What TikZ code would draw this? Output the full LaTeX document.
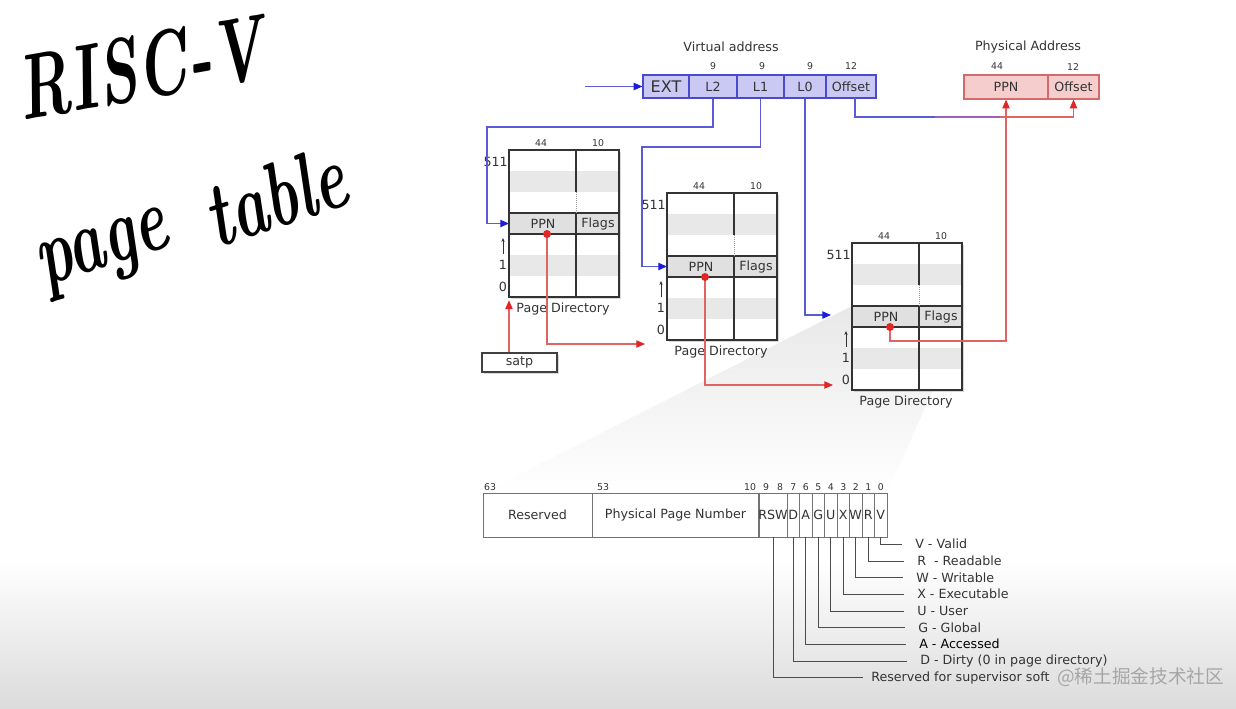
\documentclass[tikz,border=0pt]{standalone}
\usepackage{fontspec}
\setsansfont{DejaVu Sans}
\newfontfamily\cjkfont{Noto Sans CJK SC}
\usetikzlibrary{arrows.meta,shadows}
\definecolor{vline}{HTML}{5B5BD6}
\definecolor{vtip}{HTML}{1C1CE0}
\definecolor{vfill}{HTML}{C9C9F4}
\definecolor{vdraw}{HTML}{4A4AD0}
\definecolor{pfill}{HTML}{F6CDCD}
\definecolor{pdraw}{HTML}{D46A6A}
\definecolor{rline}{HTML}{E06464}
\definecolor{rtip}{HTML}{E02626}
\definecolor{txt}{HTML}{333333}
\definecolor{stripe}{HTML}{E8E8E8}
\definecolor{ppnrow}{HTML}{E0E0E0}
\definecolor{tframe}{HTML}{333333}
\definecolor{midv}{HTML}{9A62B8}

\tikzset{
 vbox/.style={draw=vdraw, fill=vfill, line width=0.9pt, minimum height=17.25pt, inner sep=0pt, font=\sffamily\fontsize{9.5}{11}\selectfont, text=txt},
 pbox/.style={draw=pdraw, fill=pfill, line width=0.9pt, minimum height=18pt, inner sep=0pt, font=\sffamily\fontsize{9.5}{11}\selectfont, text=txt},
 small/.style={font=\sffamily\fontsize{7}{8}\selectfont, text=txt, inner sep=0pt},
 lbl/.style={font=\sffamily\fontsize{9.5}{11}\selectfont, text=txt, inner sep=0pt},
 bline/.style={draw=vline, line width=0.8pt},
 barrow/.style={bline, -{Triangle[length=6.5pt,width=5.5pt,color=vtip]}},
 rlinest/.style={draw=rline, line width=0.8pt},
 rarrow/.style={rlinest, -{Triangle[length=6.5pt,width=5.5pt,color=rtip]}},
 tbl/.style={draw=tframe, line width=0.9pt},
 reddot/.style={circle, fill=rtip, inner sep=0pt, minimum size=6pt},
 field/.style={draw=black!55, line width=0.6pt, minimum height=33pt, inner sep=0pt, font=\sffamily\fontsize{9.5}{11}\selectfont, text=txt},
 legline/.style={draw=black!70, line width=0.7pt},
 leg/.style={anchor=west, font=\sffamily\fontsize{9.5}{11}\selectfont, text=txt, inner sep=0pt},
 hand/.style={font=\fontsize{46}{48}\selectfont\rmfamily\bfseries\itshape, inner sep=0pt},
}

\newcommand\pagedir[3]{%
 \fill[white, drop shadow={shadow xshift=1.5pt, shadow yshift=-1.5pt, opacity=0.3}] (#2,#3) rectangle (#2+110,#3+147);
 \fill[stripe] (#2,#3+21) rectangle (#2+110,#3+42);
 \fill[ppnrow] (#2,#3+63) rectangle (#2+110,#3+84);
 \fill[stripe] (#2,#3+105) rectangle (#2+110,#3+126);
 \draw[tbl] (#2,#3) rectangle (#2+110,#3+147);
 \draw[tbl] (#2,#3+63) -- (#2+110,#3+63) (#2,#3+84) -- (#2+110,#3+84);
 \draw[tbl] (#2+67,#3) -- (#2+67,#3+42) (#2+67,#3+63) -- (#2+67,#3+147);
 \draw[black!40, densely dotted, line width=0.5pt] (#2+67,#3+42) -- (#2+67,#3+63);
 \node[lbl, anchor=east] (#1n511) at (#2-1,#3+12) {511};
 \node[small] (#1w44) at (#2+32,#3-7) {44};
 \node[small] (#1w10) at (#2+89,#3-7) {10};
 \node[lbl] (#1ppn) at (#2+34,#3+73.5) {PPN};
 \node[lbl] (#1flags) at (#2+89,#3+73.5) {Flags};
 \node[lbl] (#1one) at (#2-6,#3+115) {1};
 \node[lbl] (#1zero) at (#2-6,#3+137) {0};
 \node[lbl] (#1cap) at (#2+54,#3+159) {Page Directory};
 \coordinate (#1up0) at (#2-6,#3+104);
 \coordinate (#1up1) at (#2-6,#3+88);
 \draw[-{Stealth[length=3pt,width=2.5pt]}, line width=0.6pt, txt] (#1up0) -- (#1up1);
 \coordinate (#1dotc) at (#2+38,#3+84);
 \coordinate (#1row) at (#2,#3+73.5);
 \coordinate (#1sw) at (#2,#3+147);
}

\begin{document}
\begin{tikzpicture}[x=0.75pt,y=-0.75pt]
\useasboundingbox (0,0) rectangle (1236,708);
\fill[white] (0,0) rectangle (1236,708);
\shade[top color=white, bottom color=black!14] (0,560) rectangle (1236,708);

% handwritten title
\node[hand, rotate=10, yscale=1.5] (title1) at (140,68) {RISC-V};
\node[hand, rotate=18, yscale=1.5] (title2) at (105,255) {page};
\node[hand, rotate=18, yscale=1.5] (title3) at (275,196) {table};

% projection of the PTE
\shade[top color=black!9, bottom color=white] (852,306) -- (961,327) -- (887,493) -- (483,493) -- cycle;

% virtual address
\node[lbl] (vtitle) at (731,47) {Virtual address};
\node[vbox, minimum width=34.5pt, font=\sffamily\fontsize{12}{13}\selectfont] (ext) at (666,86.5) {EXT};
\node[vbox, minimum width=36pt] (l2) at (713,86.5) {L2};
\node[vbox, minimum width=35.25pt] (l1) at (760.5,86.5) {L1};
\node[vbox, minimum width=31.5pt] (l0) at (805,86.5) {L0};
\node[vbox, minimum width=37.5pt] (voff) at (851,86.5) {Offset};
\node[small] (n9a) at (713,66) {9};
\node[small] (n9b) at (762,66) {9};
\node[small] (n9c) at (810,66) {9};
\node[small] (n12a) at (851,66) {12};

% physical address
\node[lbl] (ptitle) at (1028,47) {Physical Address};
\node[pbox, minimum width=63pt] (pppn) at (1006,87) {PPN};
\node[pbox, minimum width=38.25pt] (poff) at (1073.5,87) {Offset};
\node[small] (n44p) at (997,66) {44};
\node[small] (n12p) at (1073,67) {12};

% page directories
\pagedir{ta}{509}{150}
\pagedir{tb}{667}{193}
\pagedir{tc}{852}{243}

% satp
\node[draw=black!75, line width=0.8pt, fill=white, minimum width=56.25pt, minimum height=14.25pt, inner sep=0pt, lbl, drop shadow={shadow xshift=1.5pt, shadow yshift=-1.5pt, opacity=0.3}] (satp) at (519.5,362.5) {satp};

% blue connectors
\coordinate (vin) at (585,86.5);
\draw[barrow] (vin) -- (ext);
\coordinate (k1) at (487,127);
\draw[barrow] (l2.south) |- (k1) |- (tarow);
\coordinate (k2) at (642,147);
\draw[barrow] (l1.south) |- (k2) |- (tbrow);
\coordinate (tcin) at (831,315);
\draw[barrow] (l0.south) |- (tcin);
\coordinate (om0) at (855,98);
\coordinate (om1) at (935,117);
\coordinate (om2) at (1000,117);
\draw[bline] (om0) |- (om1);
\draw[draw=midv, line width=0.8pt] (om1) -- (om2);
\draw[rarrow] (om2) -| (poff.south);

% red connectors
\draw[rarrow] (satp.north -| tasw) -- ([yshift=-2.5pt]tasw);
\coordinate (tbin) at (645,344);
\draw[rarrow] (tadotc) |- (tbin);
\coordinate (tcin2) at (833,385);
\draw[rarrow] (tbdotc) |- (tcin2);
\coordinate (k3) at (1006,341);
\draw[rarrow] (tcdotc) |- (k3) -- (pppn.south);
\node[reddot] (tadot) at (tadotc) {};
\node[reddot] (tbdot) at (tbdotc) {};
\node[reddot] (tcdot) at (tcdotc) {};

% page table entry
\node[field, minimum width=81.75pt] (fres) at (537.5,515) {Reserved};
\node[field, minimum width=125.25pt] (fppn) at (675.5,515) {Physical Page Number};
\node[field, minimum width=21pt] (frsw) at (773,515) {RSW};
\foreach \n/\c in {D/793.25, A/805.75, G/818.25, U/830.75, X/843.25, W/855.75, R/868.25, V/880.75}{
  \node[field, minimum width=9.375pt] (b\n) at (\c,515) {\n};
}
\node[small] (bit63) at (490,487) {63};
\node[small] (bit53) at (603,487) {53};
\node[small] (bit10) at (750,487) {10};
\node[small] (bit9) at (766,487) {9};
\node[small] (bit8) at (780,487) {8};
\foreach \k/\c in {7/793.25, 6/805.75, 5/818.25, 4/830.75, 3/843.25, 2/855.75, 1/868.25, 0/880.75}{
  \node[small] (bit\k) at (\c,487) {\k};
}

% legend
\node[leg] (lV) at (915,544) {V - Valid};
\node[leg] (lR) at (917,561) {R\ \ - Readable};
\node[leg] (lW) at (916,577.5) {W - Writable};
\node[leg] (lX) at (917,594) {X - Executable};
\node[leg] (lU) at (917,611) {U - User};
\node[leg] (lG) at (918,627.5) {G - Global};
\node[leg, text=black] (lA) at (919,644) {A - Accessed};
\node[leg] (lD) at (920,661) {D - Dirty (0 in page directory)};
\node[leg] (lRSW) at (871,677.5) {Reserved for supervisor soft};
\node[anchor=west, inner sep=0pt, text=black!35, font=\cjkfont\fontsize{14}{16}\selectfont] (wm) at (1057,677.5) {@稀土掘金技术社区};
\foreach \n in {V,R,W,X,U,G,A,D}{
  \draw[legline] (b\n.south) |- ([xshift=-10pt]l\n.west);
}
\draw[legline] (frsw.south) |- ([xshift=-6pt]lRSW.west);
\end{tikzpicture}
\end{document}
